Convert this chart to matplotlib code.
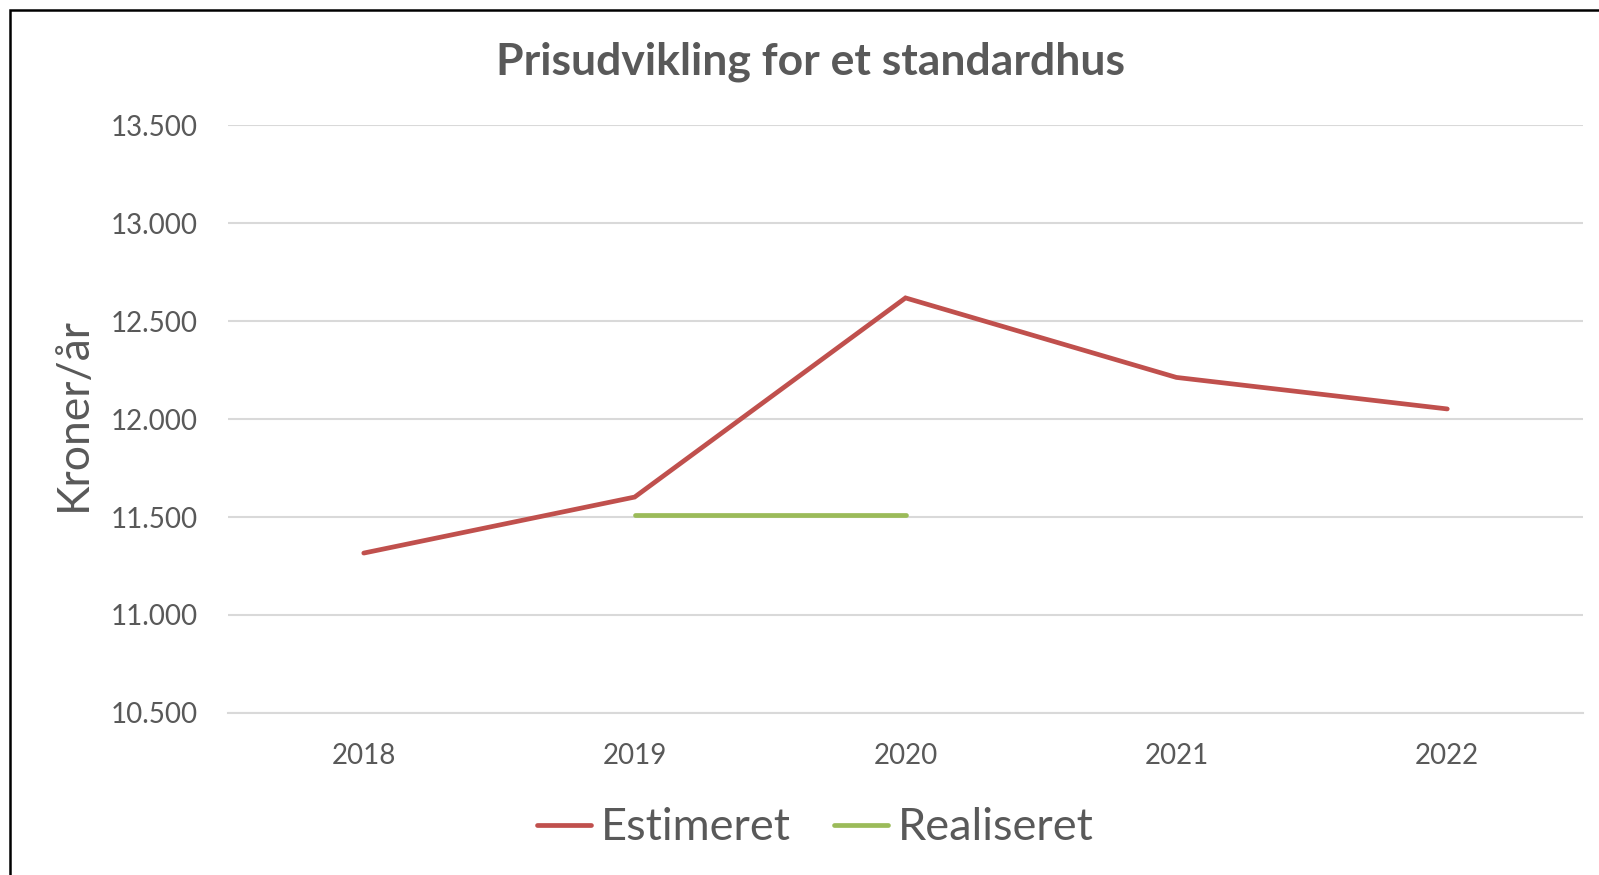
import matplotlib
matplotlib.use("Agg")
import matplotlib.pyplot as plt
from matplotlib.patches import Rectangle
from matplotlib.ticker import FuncFormatter

YEARS = ["2018", "2019", "2020", "2021", "2022"]
ESTIMERET = [11316, 11602, 12619, 12213, 12052]
REAL_YEARS = ["2019", "2020"]
REALISERET = [11510, 11510]
Y_TICKS = [10500, 11000, 11500, 12000, 12500, 13000, 13500]

RED = "#C0504D"
GREEN = "#9BBB59"
TEXT = "#595959"
GRID = "#D9D9D9"

plt.rcParams["font.family"] = ["Lato", "DejaVu Sans"]

fig = plt.figure(figsize=(15.99, 8.75), dpi=100)
ax = fig.add_axes([0.1428, 0.1853, 0.8470, 0.6714])

x_est = [YEARS.index(y) for y in YEARS]
x_real = [YEARS.index(y) for y in REAL_YEARS]
ax.plot(x_est, ESTIMERET, color=RED, lw=3.4, solid_capstyle="round",
        solid_joinstyle="miter", label="Estimeret", zorder=3)
ax.plot(x_real, REALISERET, color=GREEN, lw=3.4, solid_capstyle="round",
        label="Realiseret", zorder=3)

ax.set_xlim(-0.5, len(YEARS) - 0.5)
ax.set_ylim(Y_TICKS[0], Y_TICKS[-1])
ax.set_xticks(range(len(YEARS)))
ax.set_xticklabels(YEARS)
ax.set_yticks(Y_TICKS)
ax.yaxis.set_major_formatter(FuncFormatter(lambda v, p: f"{int(v):,}".replace(",", ".")))

ax.grid(axis="y", color=GRID, lw=1.5)
ax.set_axisbelow(True)
for s in ["top", "right", "left"]:
    ax.spines[s].set_visible(False)
ax.spines["bottom"].set_color(GRID)
ax.spines["bottom"].set_linewidth(1.5)
ax.tick_params(axis="both", length=0, labelsize=20, colors=TEXT)
ax.tick_params(axis="y", pad=22)
ax.tick_params(axis="x", pad=22)

ax.set_ylabel("Kroner/år", fontsize=32, color=TEXT)
ax.yaxis.set_label_coords((94 - 228.4) / (0.847 * 1599), 0.509)

fig.text(811 / 1599, 1 - 62 / 875, "Prisudvikling for et standardhus", ha="center", va="center",
         fontsize=32, fontweight="bold", color=TEXT)

leg = fig.legend(loc="center", bbox_to_anchor=(815 / 1599, 1 - 828 / 875), ncol=2, frameon=False,
                 fontsize=32.5, handlelength=1.2, handletextpad=0.22, columnspacing=0.95,
                 labelcolor=TEXT)

# outer frame (only left and top edges are visible in the reference)
fig.patches.append(Rectangle((9.5 / 1599, -0.1), 1.2, (875 - 9.5) / 875 + 0.1, fill=False,
                             edgecolor="black", lw=1.8, transform=fig.transFigure))

fig.savefig("out.png", dpi=100, facecolor="white")
